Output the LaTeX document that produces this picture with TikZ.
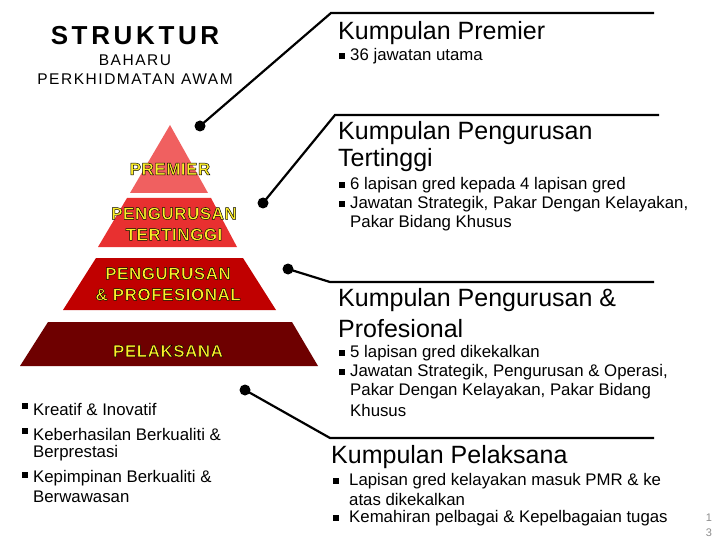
\documentclass[tikz,border=0pt]{standalone}
\usepackage{fontspec}
\setmainfont{Liberation Sans}
\definecolor{tA}{RGB}{240,96,96}
\definecolor{tB}{RGB}{232,48,48}
\definecolor{tC}{RGB}{192,0,0}
\definecolor{tD}{RGB}{110,0,0}
\definecolor{ylw}{RGB}{255,240,40}
\definecolor{pgnum}{RGB}{140,140,140}
\newcommand\olined[1]{\special{pdf:literal direct 2 Tr 0.45 w 0 0 0 RG 1 0.94 0.16 rg}#1\special{pdf:literal direct 0 Tr}}
\begin{document}
\begin{tikzpicture}[x=1pt,y=-1pt,
  hd/.style={anchor=west,inner sep=0pt,font=\fontsize{25}{27}\selectfont},
  bt/.style={anchor=west,inner sep=0pt,font=\fontsize{16.8}{19}\selectfont},
  sq/.style={fill=black,minimum size=5.5pt,inner sep=0pt},
  conn/.style={line width=2.2pt},
  dot/.style={circle,fill=black,minimum size=11pt,inner sep=0pt},
  pyr/.style={font=\fontsize{17}{21}\bfseries\selectfont\addfontfeature{LetterSpace=3},inner sep=0pt,align=center,text=ylw}]
\useasboundingbox (0,0) rectangle (720,540);
\fill[white] (0,0) rectangle (720,540);
% pyramid
\fill[tA] (170,125) -- (208,193) -- (130,193) -- cycle;
\fill[tB] (127,198) -- (211,198) -- (237,247) -- (98,247) -- cycle;
\fill[tC] (96,258) -- (243,258) -- (276,310) -- (63,310) -- cycle;
\fill[tD] (48,322) -- (292,322) -- (318,366) -- (20,366) -- cycle;
\node[pyr] (p1) at (170,169) {\olined{PREMIER}};
\node[pyr] (p2) at (174,224) {\olined{PENGURUSAN}\\\olined{TERTINGGI}};
\node[pyr] (p3) at (168,284) {\olined{PENGURUSAN}\\\olined{\& PROFESIONAL}};
\node[pyr] (p4) at (168,351) {\olined{PELAKSANA}};
% title
\node[inner sep=0pt,font=\fontsize{26}{28}\bfseries\selectfont\addfontfeature{LetterSpace=14}] (t1) at (135,36) {STRUKTUR};
\node[inner sep=0pt,align=center,font=\fontsize{15.5}{19}\selectfont\addfontfeature{LetterSpace=10}] (t2) at (135,70) {BAHARU\\PERKHIDMATAN AWAM};
% connectors
\node[dot] (d1) at (200,126) {};
\node[dot] (d2) at (263,203) {};
\node[dot] (d3) at (288,269) {};
\node[dot] (d4) at (245,390) {};
\coordinate (c1) at (331,13); \coordinate (e1) at (654,13);
\coordinate (c2) at (335,115); \coordinate (e2) at (659,115);
\coordinate (c3) at (330,282); \coordinate (e3) at (654,282);
\coordinate (c4) at (330,438); \coordinate (e4) at (654,438);
\draw[conn] (d1.center) -- (c1) -- (e1);
\draw[conn] (d2.center) -- (c2) -- (e2);
\draw[conn] (d3.center) -- (c3) -- (e3);
\draw[conn] (d4.center) -- (c4) -- (e4);
% right texts
\node[hd] (h1) at (338,33) {Kumpulan Premier};
\node[sq] at (342,56) {}; \node[bt] (b1) at (350,56) {36 jawatan utama};
\node[hd] (h2) at (338,133) {Kumpulan Pengurusan};
\node[hd] at (338,160) {Tertinggi};
\node[sq] at (342,185) {}; \node[bt] at (350,185) {6 lapisan gred kepada 4 lapisan gred};
\node[sq] at (342,204) {}; \node[bt] at (350,204) {Jawatan Strategik, Pakar Dengan Kelayakan,};
\node[bt] at (350,223) {Pakar Bidang Khusus};
\node[hd] (h3) at (338,300) {Kumpulan Pengurusan \&};
\node[hd] at (338,329) {Profesional};
\node[sq] at (342,353) {}; \node[bt] at (350,353) {5 lapisan gred dikekalkan};
\node[sq] at (342,372) {}; \node[bt] at (350,372) {Jawatan Strategik, Pengurusan \& Operasi,};
\node[bt] at (350,391) {Pakar Dengan Kelayakan, Pakar Bidang};
\node[bt] at (350,410) {Khusus};
\node[hd] (h4) at (331,457) {Kumpulan Pelaksana};
\node[sq] at (336,481) {}; \node[bt] at (349,481) {Lapisan gred kelayakan masuk PMR \& ke};
\node[bt] at (349,499) {atas dikekalkan};
\node[sq] at (336,518) {}; \node[bt] at (349,518) {Kemahiran pelbagai \& Kepelbagaian tugas};
% left bullets
\node[sq] at (25,406) {}; \node[bt] (l1) at (33,409) {Kreatif \& Inovatif};
\node[sq] at (25,431) {}; \node[bt] at (33,434) {Keberhasilan Berkualiti \&};
\node[bt] at (33,453) {Berprestasi};
\node[sq] at (25,475) {}; \node[bt] at (33,478) {Kepimpinan Berkualiti \&};
\node[bt] at (33,497) {Berwawasan};
% page number
\node[inner sep=0pt,pgnum,font=\fontsize{11}{15}\selectfont,align=center] (pn) at (709,525) {1\\3};
\end{tikzpicture}
\end{document}
